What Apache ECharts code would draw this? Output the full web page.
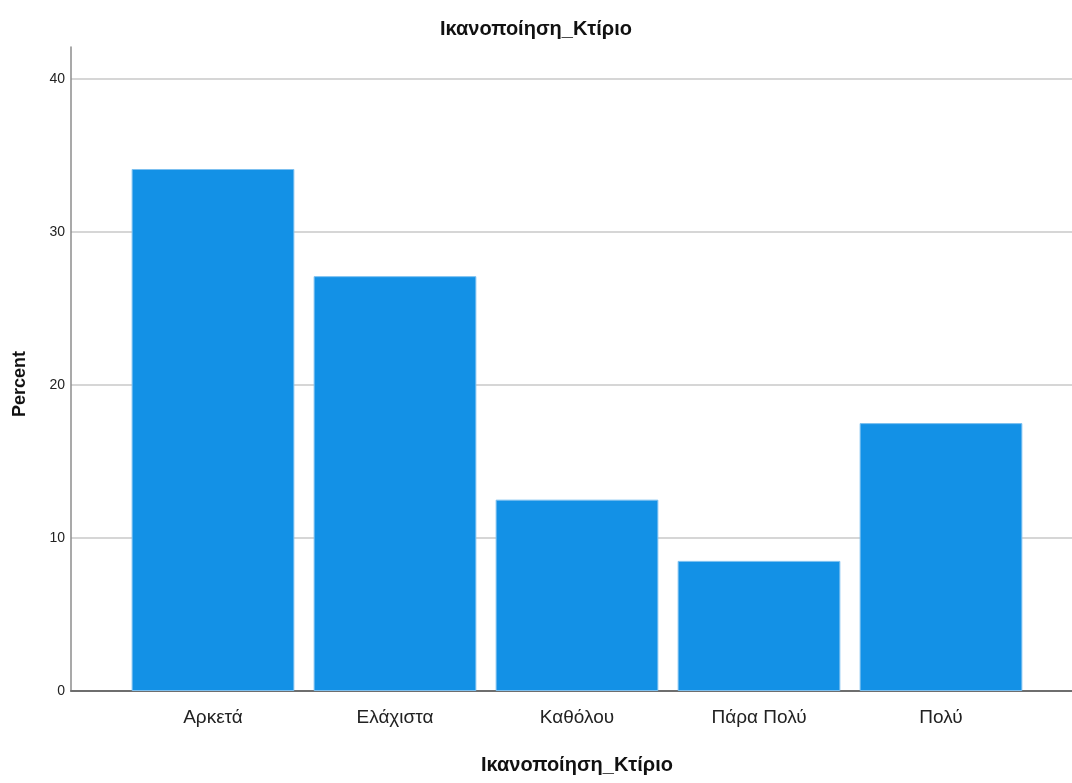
<!DOCTYPE html>
<html>
<head>
<meta charset="utf-8">
<script src="https://cdn.jsdelivr.net/npm/echarts@6/dist/echarts.min.js"></script>
<style>
  html, body { margin: 0; padding: 0; background: #fff; }
  #chart { width: 1072px; height: 783px; }
</style>
</head>
<body>
<div id="chart"></div>
<script>
  const categories = ['Αρκετά', 'Ελάχιστα', 'Καθόλου', 'Πάρα Πολύ', 'Πολύ'];
  const percents = [34.1, 27.1, 12.5, 8.5, 17.5];
  const yTicks = [0, 10, 20, 30, 40];

  const font = '"Liberation Sans", Arial, sans-serif';
  const yMax = 42.07;

  const chart = echarts.init(document.getElementById('chart'));

  const option = {
    animation: false,
    backgroundColor: '#fff',
    title: {
      text: 'Ικανοποίηση_Κτίριο',
      left: 'center',
      top: 14,
      textStyle: { fontFamily: font, fontSize: 20, fontWeight: 'bold', color: '#111' }
    },
    grid: [
      // frame: y axis, gridlines, baseline
      { left: 71, right: 0, top: 47, bottom: 92 },
      // bars
      { left: 122, right: 40, top: 47, bottom: 92 }
    ],
    xAxis: [
      {
        type: 'value',
        gridIndex: 0,
        min: 0,
        max: 1,
        axisLine: { show: true, onZero: false, lineStyle: { color: '#6e6e6e', width: 2 } },
        axisTick: { show: false },
        axisLabel: { show: false },
        splitLine: { show: false }
      },
      {
        type: 'category',
        gridIndex: 1,
        data: categories,
        axisLine: { show: false },
        axisTick: { show: false },
        axisLabel: { fontFamily: font, fontSize: 19, color: '#222', margin: 17 },
        name: 'Ικανοποίηση_Κτίριο',
        nameLocation: 'middle',
        nameGap: 64,
        nameTextStyle: { fontFamily: font, fontSize: 20, fontWeight: 'bold', color: '#111' }
      }
    ],
    yAxis: [
      {
        type: 'value',
        gridIndex: 0,
        min: 0,
        max: yMax,
        interval: 10,
        axisLine: { show: true, lineStyle: { color: '#8c8c8c', width: 1.5 } },
        axisTick: { show: false },
        axisLabel: {
          fontFamily: font, fontSize: 14, color: '#222', margin: 6,
          showMaxLabel: false,
          formatter: v => (yTicks.indexOf(v) >= 0 ? String(v) : '')
        },
        splitLine: { show: true, showMaxLine: false, lineStyle: { color: '#c8c8c8', width: 1.5 } },
        name: 'Percent',
        nameLocation: 'middle',
        nameRotate: 90,
        nameGap: 42,
        nameTextStyle: { fontFamily: font, fontSize: 18, fontWeight: 'bold', color: '#111', padding: [0, 30, 0, 0] }
      },
      {
        type: 'value',
        gridIndex: 1,
        min: 0,
        max: yMax,
        show: false
      }
    ],
    series: [{
      type: 'bar',
      xAxisIndex: 1,
      yAxisIndex: 1,
      data: percents,
      barCategoryGap: '10.6%',
      itemStyle: { color: '#1391e6', borderColor: '#7cc0f0', borderWidth: 1 }
    }]
  };

  chart.setOption(option);
</script>
</body>
</html>
